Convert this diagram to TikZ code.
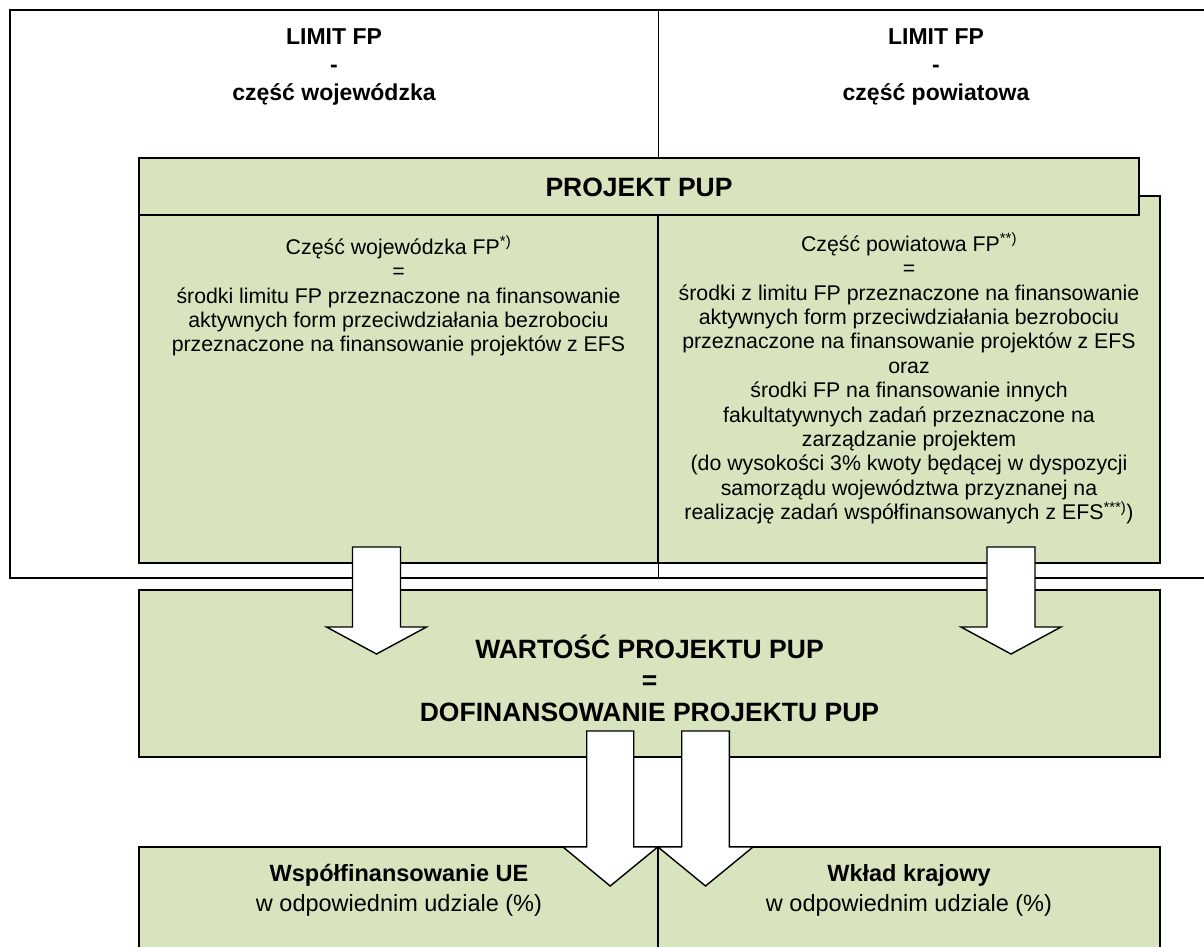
\documentclass[tikz,border=0pt]{standalone}
\usepackage{fontspec}
\setmainfont{Liberation Sans}
\definecolor{boxgreen}{HTML}{D7E4BD}
\newcommand\fbody{\fontsize{21.3}{24.4}\selectfont}
\newcommand\ftop{\fontsize{23}{28}\selectfont\bfseries}
\newcommand\fbig{\fontsize{26.5}{31.5}\selectfont\bfseries}
\newcommand\fbot{\fontsize{23.5}{30}\selectfont}
\begin{document}
\begin{tikzpicture}[x=1pt,y=-1pt,
  gbox/.style={draw=black, fill=boxgreen, line width=1.6pt, rectangle, inner sep=0pt, outer sep=0pt, anchor=north west},
  wbox/.style={draw=black, fill=white, line width=2pt, rectangle, inner sep=0pt, outer sep=0pt, anchor=north west},
  blockarrow/.style={draw=black, fill=white, line width=1.4pt, line join=miter},
  txt/.style={inner sep=0pt, outer sep=0pt, align=center},
  thinline/.style={draw=black, line width=1pt},
]
\path[use as bounding box] (0,0) rectangle (1204,947);

% outer LIMIT FP box
\node[wbox, minimum width=1204pt, minimum height=568pt] (limit) at (10,10) {};
\coordinate (divT) at (658,10);
\coordinate (divB) at (658,578);
\draw[thinline] (divT) -- (divB);
\node[txt, font=\ftop] (limW) at (334,67) {LIMIT FP\\-\\część wojewódzka};
\node[txt, font=\ftop] (limP) at (936,67) {LIMIT FP\\-\\część powiatowa};

% PROJEKT PUP
\node[gbox, minimum width=502pt, minimum height=367pt] (pow) at (658,196) {};
\node[gbox, minimum width=519pt, minimum height=348pt] (woj) at (139,215) {};
\node[gbox, minimum width=1000pt, minimum height=57pt] (proj) at (139,158) {};
\node[txt, font=\fbig] (projT) at (639,187) {PROJEKT PUP};

\node[txt, font=\fbody, anchor=north] (wojT) at (398.5,236) {Część wojewódzka FP\textsuperscript{*)}\\=\\środki limitu FP przeznaczone na finansowanie\\aktywnych form przeciwdziałania bezrobociu\\przeznaczone na finansowanie projektów z EFS};
\node[txt, font=\fbody, anchor=north] (powT) at (909,233) {Część powiatowa FP\textsuperscript{**)}\\=\\środki z limitu FP przeznaczone na finansowanie\\aktywnych form przeciwdziałania bezrobociu\\przeznaczone na finansowanie projektów z EFS\\oraz\\środki FP na finansowanie innych\\fakultatywnych zadań przeznaczone na\\zarządzanie projektem\\(do wysokości 3\% kwoty będącej w dyspozycji\\samorządu województwa przyznanej na\\realizację zadań współfinansowanych z EFS\textsuperscript{***)})};

% WARTOSC
\node[gbox, minimum width=1021pt, minimum height=167pt] (wart) at (139,590) {};
\node[txt, font=\fbig] (wartT) at (649.5,678) {WARTOŚĆ PROJEKTU PUP\\=\\DOFINANSOWANIE PROJEKTU PUP};

% bottom boxes
\node[gbox, minimum width=519pt, minimum height=130pt] (ue) at (139,847) {};
\node[gbox, minimum width=502pt, minimum height=130pt] (kraj) at (658,847) {};
\node[txt, font=\fbot] (ueT) at (399,890) {\textbf{Współfinansowanie UE}\\w odpowiednim udziale (\%)};
\node[txt, font=\fbot] (krajT) at (909,890) {\textbf{Wkład krajowy}\\w odpowiednim udziale (\%)};

% block arrows
\draw[blockarrow] (352.5,547) -- (400.5,547) -- (400.5,627) -- (426.5,627) -- (376.5,654) -- (326.5,627) -- (352.5,627) -- cycle;
\draw[blockarrow] (987,547) -- (1035,547) -- (1035,627) -- (1061,627) -- (1011,654) -- (961,627) -- (987,627) -- cycle;
\draw[blockarrow] (586.7,731) -- (633.7,731) -- (633.7,847) -- (657.7,847) -- (610.2,886) -- (563,847) -- (586.7,847) -- cycle;
\draw[blockarrow] (681.7,731) -- (729.3,731) -- (729.3,847) -- (753,847) -- (705.5,886) -- (658,847) -- (681.7,847) -- cycle;
\end{tikzpicture}
\end{document}
